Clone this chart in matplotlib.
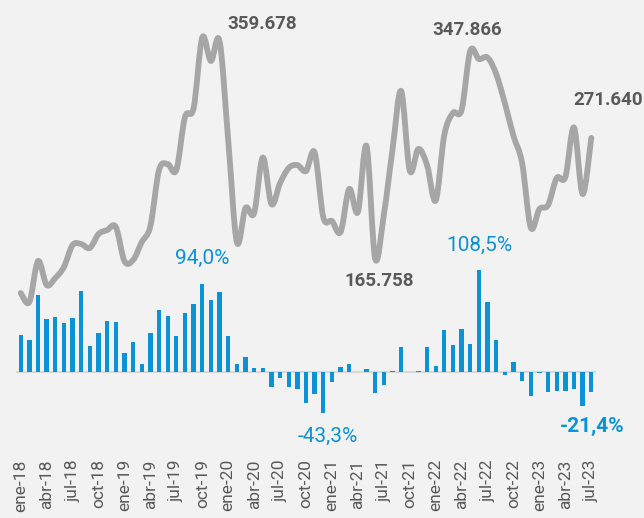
import numpy as np
import matplotlib
matplotlib.use("Agg")
import matplotlib.pyplot as plt
from matplotlib.path import Path
from matplotlib.patches import PathPatch

# ---------------- data ----------------
tick_labels = ["ene-18", "abr-18", "jul-18", "oct-18", "ene-19", "abr-19", "jul-19", "oct-19",
               "ene-20", "abr-20", "jul-20", "oct-20", "ene-21", "abr-21", "jul-21", "oct-21",
               "ene-22", "abr-22", "jul-22", "oct-22", "ene-23", "abr-23", "jul-23"]

line_values = [135.6, 127.7, 163.6, 142.6, 148.7, 158.4, 177.7, 178.5, 175.1, 187.3,
               190.8, 193.5, 163.6, 164.5, 180.3, 194.3, 243.5, 248.7, 243.5, 289.9,
               297.8, 359.678, 339.1, 356.6, 269.8, 180.3, 210.1, 205.7, 254.4, 213.6,
               232.0, 245.2, 247.8, 242.6, 258.8, 202.2, 198.7, 189.1, 226.8, 206.6,
               264.5, 165.758, 204.0, 261.0, 312.8, 243.0, 261.9, 247.8, 216.7, 274.2,
               293.5, 296.1, 347.866, 340.8, 342.1, 327.7, 302.2, 273.3, 249.6, 193.0,
               209.2, 212.7, 236.4, 237.3, 280.7, 222.4, 271.640]

var_values = [39, 34, 82, 56, 58.5, 52, 57, 86, 27.6, 41,
              54, 53, 20, 31.6, 8.5, 41.5, 65.6, 59.6, 38.6, 63,
              72, 94.0, 76.6, 84.8, 38, 8.5, 16, 3.9, 4.6, -15.6,
              -6.7, -16, -17.7, -33.3, -23, -43.3, -11, 5, 8.2, 0.5,
              3.5, -22, -13.8, 1, 27, 0.3, 1, 26.6, 6.4, 44.3,
              29, 45.4, 29.4, 108.5, 74, 34, -3.5, 10.6, -9.2, -26,
              -1, -21.6, -19.9, -20.5, -17.7, -36, -21.4]

line_labels_idx = [21, 52, 66, 41]
bar_labels_idx = [21, 53, 35, 66]

# ---------------- style ----------------
BG = "#f2f2f2"
GRAY_LINE = "#a6a6a6"
BLUE = "#0b93d5"
DARK = "#595959"
FONT = ["Roboto", "DejaVu Sans"]
plt.rcParams["font.family"] = FONT

W, H = 644, 518
fig = plt.figure(figsize=(W / 100, H / 100), dpi=100, facecolor=BG)

left_px, right_px = 16.4, 595.6
top_px, bot_px = 5, 455
ax = fig.add_axes([left_px / W, 1 - bot_px / H, (right_px - left_px) / W, (bot_px - top_px) / H])
ax.set_facecolor(BG)
ax_l = ax.twinx()

n = len(var_values)
x = np.arange(n)

# bars
ax.axhline(0, color="#d9d9d9", lw=1.6, zorder=1)
ax.bar(x, var_values, width=0.5, color=BLUE, zorder=2)
ax.set_xlim(-0.5, n - 0.5)
ax.set_ylim(-88.3, 390.4)

# smooth line (Excel style Bezier through the points)
pts = np.column_stack([x, np.array(line_values, dtype=float)])
verts = [pts[0]]
codes = [Path.MOVETO]
for i in range(n - 1):
    p0 = pts[i - 1] if i > 0 else pts[i]
    p1 = pts[i]
    p2 = pts[i + 1]
    p3 = pts[i + 2] if i + 2 < n else pts[i + 1]
    c1 = p1 + (p2 - p0) / 6.0
    c2 = p2 - (p3 - p1) / 6.0
    verts += [c1, c2, p2]
    codes += [Path.CURVE4] * 3
ax_l.add_patch(PathPatch(Path(verts, codes), facecolor="none", edgecolor=GRAY_LINE,
                         lw=4.2, capstyle="round", joinstyle="round", zorder=3))
ax_l.set_ylim(-6.5, 388.2)
ax_l.set_xlim(-0.5, n - 0.5)

for a in (ax, ax_l):
    for s in a.spines.values():
        s.set_visible(False)
    a.tick_params(length=0)
ax_l.set_yticks([])
ax.set_yticks([])

ax.set_xticks(x[::3])
ax.set_xticklabels(tick_labels, rotation=90, color=DARK, fontsize=12.5)
ax.tick_params(axis="x", pad=3)

# labels for line
def fmt_line(v):
    return f"{v:,.3f}".replace(",", "X").replace(".", ".").replace("X", ".") if False else f"{v:.3f}"

line_offsets = {21: (60, 13.5), 52: (-3, 20.7), 66: (17, 38), 41: (4, -22.5)}
for i in line_labels_idx:
    ax_l.annotate(f"{line_values[i]:.3f}", xy=(i, line_values[i]), xytext=line_offsets[i],
                  textcoords="offset pixels", ha="center", va="center",
                  fontsize=13.5, fontweight="bold", color=DARK, zorder=5)

bar_offsets = {21: (0, 25.4), 53: (0, 24.3), 35: (4, -23.7), 66: (1, -34.7)}
bar_bold = {21: "normal", 53: "normal", 35: "normal", 66: "bold"}
for i in bar_labels_idx:
    txt = f"{var_values[i]:.1f}".replace(".", ",") + "%"
    ax.annotate(txt, xy=(i, var_values[i]), xytext=bar_offsets[i],
                textcoords="offset pixels", ha="center", va="center",
                fontsize=15, fontweight=bar_bold[i], color=BLUE, zorder=5)

fig.savefig("out.png", dpi=100, facecolor=BG)
